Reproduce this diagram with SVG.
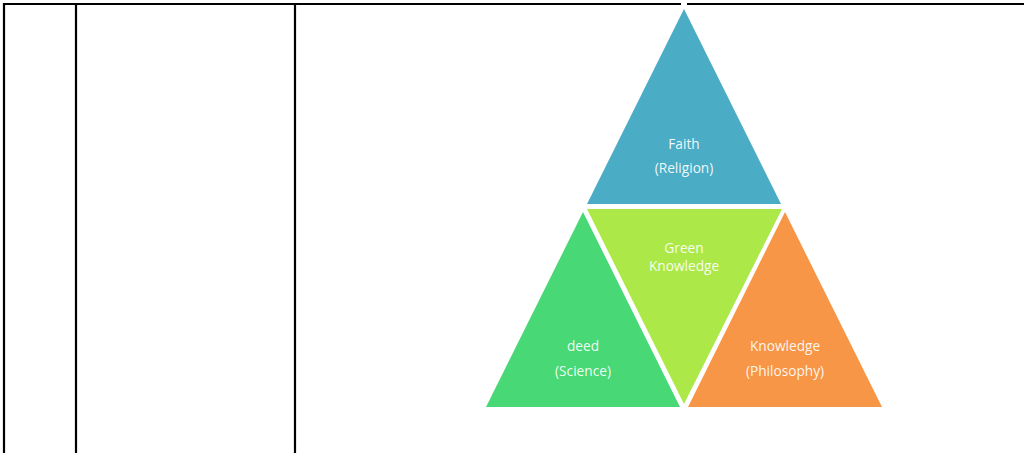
<svg xmlns="http://www.w3.org/2000/svg" width="1024" height="453" viewBox="0 0 1024 453">
<style>
.frame{stroke:#000;stroke-width:2.2;fill:none}
.tri{stroke:none}
.lbl{font-family:"Open Sans","Liberation Sans",sans-serif;font-size:13.7px;fill:#fff;fill-opacity:0.92;text-anchor:middle}
</style>
<rect width="1024" height="453" fill="#fff"/>
<g id="table">
<line class="frame" x1="3" y1="4" x2="1024" y2="4"/>
<line class="frame" x1="4" y1="3" x2="4" y2="453"/>
<line class="frame" x1="76" y1="3" x2="76" y2="453"/>
<line class="frame" x1="295" y1="3" x2="295" y2="453"/>
</g>
<g id="connectors"></g>
<g id="faith">
<rect x="681" y="2.5" width="6" height="3.5" fill="#fff"/>
<polygon class="tri" fill="#4BACC6" points="684,9 781,204 587,204"/>
<text class="lbl" x="684" y="149">Faith</text>
<text class="lbl" x="684" y="173">(Religion)</text>
</g>
<g id="green-knowledge">
<polygon class="tri" fill="#ACE948" points="587,209 782,209 684,404"/>
<text class="lbl" x="684" y="253">Green</text>
<text class="lbl" x="684" y="271">Knowledge</text>
</g>
<g id="deed">
<polygon class="tri" fill="#48D876" points="583,212 680,407 486,407"/>
<text class="lbl" x="583" y="351">deed</text>
<text class="lbl" x="583" y="376">(Science)</text>
</g>
<g id="knowledge">
<polygon class="tri" fill="#F79646" points="785,212 882,407 688,407"/>
<text class="lbl" x="785" y="351">Knowledge</text>
<text class="lbl" x="785" y="376">(Philosophy)</text>
</g>
</svg>
